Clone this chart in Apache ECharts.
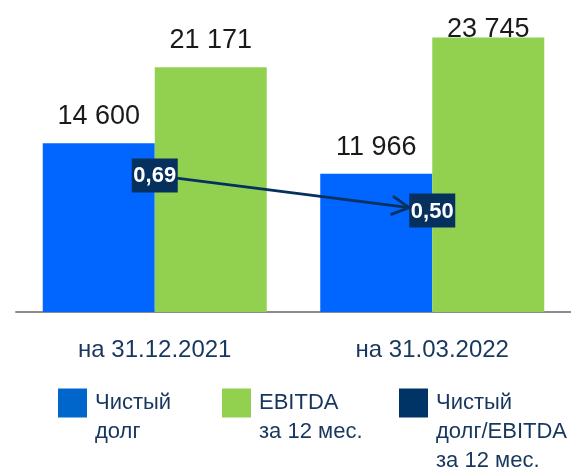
<!DOCTYPE html>
<html>
<head>
<meta charset="utf-8">
<script src="https://cdn.jsdelivr.net/npm/echarts@6/dist/echarts.min.js"></script>
<style>
  html, body { margin: 0; padding: 0; background: #fff; }
  #chart { width: 571px; height: 475px; }
</style>
</head>
<body>
<div id="chart"></div>
<script>
// данные графика
var categories = ['на 31.12.2021', 'на 31.03.2022'];
var netDebt = [14600, 11966];
var ebitda = [21171, 23745];
var ratio = [0.69, 0.50];
var seriesNames = ['Чистый\nдолг', 'EBITDA\nза 12 мес.', 'Чистый\nдолг/EBITDA\nза 12 мес.'];

var BLUE = '#0066ff';
var GREEN = '#92d050';
var NAVY = '#06305e';
var TEXT = '#17375e';
var FONT = "'Liberation Sans', Arial, sans-serif";
var LINE_H = 29;

function fmtThousands(v) {
    return String(v).replace(/\B(?=(\d{3})+(?!\d))/g, ' ');
}
function fmtRatio(v) {
    return v.toFixed(2).replace('.', ',');
}

var chart = echarts.init(document.getElementById('chart'), null, { renderer: 'canvas' });

// стрелка и подписи коэффициента
function renderRatio(params, api) {
    var idx = params.dataIndexInside;
    var p = api.coord([api.value(0), api.value(1)]);
    var children = [];
    if (idx > 0) {
        var q = api.coord([api.value(0, idx - 1), api.value(1, idx - 1)]);
        var dx = p[0] - q[0], dy = p[1] - q[1];
        var t = (p[0] - 23 - q[0]) / dx;
        var tip = [q[0] + t * dx, q[1] + t * dy];
        var len = Math.sqrt(dx * dx + dy * dy);
        var ux = dx / len, uy = dy / len;
        var a = 28 * Math.PI / 180, L = 20;
        function arm(s) {
            var c = Math.cos(s * a), sn = Math.sin(s * a);
            return [tip[0] - L * (ux * c - uy * sn), tip[1] - L * (ux * sn + uy * c)];
        }
        children.push({
            type: 'line', z2: 1,
            shape: { x1: q[0], y1: q[1], x2: tip[0], y2: tip[1] },
            style: { stroke: NAVY, lineWidth: 2.8 }
        });
        children.push({
            type: 'polyline', z2: 1,
            shape: { points: [arm(1), tip, arm(-1)] },
            style: { stroke: NAVY, lineWidth: 2.8, fill: null }
        });
    }
    children.push({
        type: 'rect', z2: 10,
        shape: { x: p[0] - 23, y: p[1] - 17, width: 46, height: 34 },
        style: { fill: NAVY }
    });
    children.push({
        type: 'text', z2: 11,
        x: p[0], y: p[1] + 1,
        style: {
            text: fmtRatio(api.value(1)), fill: '#fff',
            font: 'bold 22px ' + FONT, align: 'center', verticalAlign: 'middle'
        }
    });
    return { type: 'group', children: children };
}

var barLabel = {
    show: true, position: 'top', distance: 13,
    color: '#1a1a1a', fontSize: 27, fontFamily: FONT,
    formatter: function (p) { return fmtThousands(p.value); }
};

// многострочная подпись легенды: первая строка на уровне значка
function legendFor(name, color, left) {
    var lines = name.split('\n').length;
    var pad = new Array(lines).join('\n');
    return {
        orient: 'horizontal', padding: 0, icon: 'rect',
        itemWidth: 29, itemHeight: 29,
        left: left, top: 403 - (2 * lines - 1) * LINE_H / 2,
        selectedMode: false,
        data: [{ name: name, itemStyle: { color: color } }],
        formatter: function (n) { return pad + n; },
        textStyle: { color: TEXT, fontSize: 22, fontFamily: FONT, lineHeight: LINE_H, padding: [0, 0, 0, 3] }
    };
}

var option = {
    animation: false,
    backgroundColor: '#fff',
    grid: { left: 16, right: -4, top: 0, height: 312 },
    xAxis: {
        type: 'category', data: categories,
        axisLine: { lineStyle: { color: '#8c8c8c', width: 2 } },
        axisTick: { show: false },
        axisLabel: { color: TEXT, fontSize: 24, fontFamily: FONT, margin: 26 }
    },
    yAxis: [
        { type: 'value', min: 0, max: 27000, show: false },
        { type: 'value', min: -0.05, max: 1.64, show: false }
    ],
    legend: [
        legendFor(seriesNames[0], '#0066cc', 58),
        legendFor(seriesNames[1], GREEN, 222),
        legendFor(seriesNames[2], '#003366', 399)
    ],
    series: [
        {
            name: seriesNames[0], type: 'bar', barWidth: 112, barGap: 0,
            itemStyle: { color: BLUE },
            label: barLabel,
            data: netDebt
        },
        {
            name: seriesNames[1], type: 'bar', barWidth: 112, barGap: 0,
            itemStyle: { color: GREEN },
            label: barLabel,
            data: ebitda.map(function (v, i) {
                return i === 1 ? { value: v, label: { distance: -5 } } : v;
            })
        },
        {
            name: seriesNames[2], type: 'custom', yAxisIndex: 1, z: 5,
            itemStyle: { color: NAVY },
            renderItem: renderRatio,
            encode: { x: 0, y: 1 },
            data: ratio.map(function (v, i) { return [i, v]; })
        }
    ]
};

chart.setOption(option);
</script>
</body>
</html>
